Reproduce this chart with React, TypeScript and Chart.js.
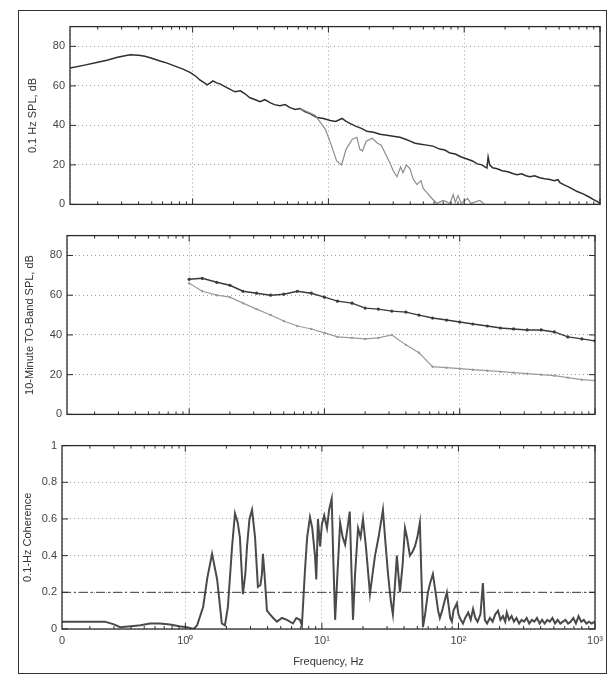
import React, { useEffect, useRef } from "react";
import { Chart, registerables } from "chart.js";
Chart.register(...registerables);

const FONT = "'Liberation Sans', Arial, Helvetica, sans-serif";

// ---- axes ----
const FREQ_MIN = 0.125;
const FREQ_MAX = 1000;
const xTickValues = [0.125, 1, 10, 100, 1000];
const xTickLabels = ["0", "10⁰", "10¹", "10²", "10³"];
const splTicks = [0, 20, 40, 60, 80];
const cohTicks = [0, 0.2, 0.4, 0.6, 0.8, 1];
const cohTickLabels = ["0", "0.2", "0.4", "0.6", "0.8", "1"];

// ---- panel 1: 0.1-Hz SPL ----
const topMainFreq = [0.125, 0.16, 0.2, 0.234, 0.28, 0.346, 0.4, 0.446, 0.5, 0.575, 0.65, 0.741, 0.85, 0.956, 1.05, 1.13, 1.22, 1.28, 1.35, 1.41, 1.5, 1.59, 1.8, 2.05, 2.25, 2.43, 2.64, 2.9, 3.13, 3.4, 3.71, 4.0, 4.4, 4.8, 5.21, 5.7, 6.18, 6.7, 7.31, 8.24, 9.2, 10.3, 11.3, 12.6, 13.5, 14.4, 16, 17.5, 19.2, 21.5, 24, 27, 30, 33.6, 37, 40, 43.4, 48, 53, 58.9, 66, 72, 78.5, 86, 95, 105, 115, 125, 135, 142, 147, 150, 154, 162, 175, 190, 210, 230, 245, 265, 285, 305, 330, 360, 390, 428, 460, 490, 507, 540, 580, 620, 680, 750, 820, 890, 950, 1000];
const topMainSPL = [69, 70.5, 72, 73, 74.5, 75.7, 75.5, 75, 74, 72.6, 71.5, 70, 68.5, 66.8, 65, 63, 61.5, 60.5, 61.5, 62.5, 61.5, 61, 59, 57, 57.5, 56, 54, 53, 52, 53, 51.5, 50.5, 50, 50.5, 49, 48, 48.5, 47, 46, 44, 43.5, 42.5, 42, 43.5, 42, 41, 39.5, 38.5, 37, 36.5, 35.5, 35, 34.5, 34, 33, 32, 31, 30.5, 30, 29.5, 28, 27.5, 26, 25.5, 24, 23, 22, 20.5, 20, 19, 18.4, 24, 20, 18.5, 18, 17, 16.5, 15.5, 15, 15.5, 14.5, 14, 14.5, 13.5, 13, 12.6, 12, 12.5, 11, 10, 9, 8, 6.5, 5.3, 4, 2.5, 1.5, 0.5];
const topSecFreq = [6.2, 8, 9.5, 10.5, 11.5, 12.5, 13.5, 15, 16.2, 17, 17.8, 19, 21, 23, 24.5, 27, 28.4, 30, 32, 34, 35.4, 37.5, 39.9, 42, 44.9, 48, 50, 53.2, 57.9, 63, 70, 78.5, 83, 86, 90, 95, 106, 112, 130, 140];
const topSecSPL = [48.5, 45, 38, 30, 22, 20, 28, 33, 34, 28, 27, 32, 33.5, 31, 30, 24, 21, 17, 14, 19, 16, 20, 18, 13, 10, 12, 8, 6, 3, 0.5, 2, 0.5, 5, 1, 4.5, 0.5, 3, 0.5, 2, 0.3];

// ---- panel 2: 10-minute third-octave band SPL ----
const bandFreq = [1, 1.25, 1.6, 2, 2.5, 3.15, 4, 5, 6.3, 8, 10, 12.5, 16, 20, 25, 31.5, 40, 50, 63, 80, 100, 125, 160, 200, 250, 315, 400, 500, 630, 800, 1000];
const bandSPLDark = [68, 68.5, 66.5, 65, 62, 61, 60, 60.5, 62, 61, 59, 57, 56, 53.5, 53, 52, 51.5, 50, 48.5, 47.5, 46.5, 45.5, 44.5, 43.5, 43, 42.5, 42.5, 41.5, 39, 38, 37];
const bandSPLGray = [66, 62, 60, 59, 56, 53, 50, 47, 44.5, 43, 41, 39, 38.5, 38, 38.5, 40, 35, 31, 24, 23.5, 23, 22.5, 22, 21.5, 21, 20.5, 20, 19.5, 18.5, 17.5, 17];

// ---- panel 3: 0.1-Hz coherence ----
const cohFreq = [0.125, 0.18, 0.258, 0.3, 0.333, 0.4, 0.47, 0.551, 0.65, 0.772, 0.9, 1.03, 1.15, 1.22, 1.35, 1.45, 1.57, 1.71, 1.85, 1.95, 2.05, 2.2, 2.31, 2.42, 2.51, 2.64, 2.75, 2.83, 2.95, 3.08, 3.24, 3.4, 3.55, 3.64, 3.7, 3.8, 3.96, 4.17, 4.4, 4.69, 5.1, 5.55, 6.14, 6.5, 6.91, 7.14, 7.52, 7.8, 8.18, 8.5, 8.9, 9.1, 9.36, 9.7, 10.0, 10.4, 10.9, 11.3, 11.8, 12.1, 12.5, 13.0, 13.6, 14.2, 14.8, 15.4, 16.0, 16.5, 16.9, 17.5, 18.4, 19.2, 20.0, 21, 22.5, 23.5, 24.5, 26, 28, 29, 30.5, 32, 33.1, 34, 35.4, 36.3, 37.3, 39, 40.6, 42, 44.1, 46, 48, 50, 52.2, 53.5, 55, 57, 59.8, 62, 65, 68, 71, 73.1, 76, 79, 82.3, 85, 87, 89.5, 92, 97.4, 100, 104, 108, 112, 118, 123, 128, 133, 138, 145, 151, 156, 162, 170, 178, 186, 195, 203, 212, 220, 226, 235, 245, 255, 266, 278, 290, 303, 316, 330, 345, 360, 376, 393, 410, 428, 447, 467, 488, 510, 533, 557, 582, 608, 635, 664, 694, 725, 758, 792, 828, 865, 904, 945, 1000];
const cohValue = [0.04, 0.04, 0.04, 0.025, 0.01, 0.015, 0.02, 0.03, 0.03, 0.025, 0.015, 0.01, 0.0, 0.02, 0.12, 0.28, 0.41, 0.27, 0.03, 0.02, 0.12, 0.45, 0.63, 0.58, 0.5, 0.19, 0.3, 0.45, 0.6, 0.65, 0.5, 0.23, 0.24, 0.3, 0.41, 0.3, 0.1, 0.08, 0.06, 0.04, 0.06, 0.05, 0.03, 0.06, 0.05, 0.02, 0.32, 0.5, 0.61, 0.55, 0.4, 0.27, 0.6, 0.45, 0.57, 0.62, 0.55, 0.65, 0.71, 0.4, 0.05, 0.3, 0.58, 0.5, 0.46, 0.55, 0.64, 0.3, 0.05, 0.3, 0.55, 0.5, 0.6, 0.45, 0.19, 0.3, 0.4, 0.5, 0.65, 0.5, 0.3, 0.15, 0.08, 0.2, 0.4, 0.3, 0.2, 0.35, 0.55, 0.5, 0.4, 0.42, 0.45, 0.5, 0.58, 0.3, 0.01, 0.08, 0.2, 0.25, 0.3, 0.2, 0.1, 0.06, 0.1, 0.15, 0.2, 0.12, 0.06, 0.04, 0.1, 0.14, 0.08, 0.05, 0.03, 0.06, 0.09, 0.05, 0.11, 0.06, 0.04, 0.08, 0.25, 0.05, 0.03, 0.06, 0.04, 0.08, 0.1, 0.05, 0.07, 0.04, 0.09, 0.05, 0.07, 0.04, 0.06, 0.03, 0.05, 0.04, 0.06, 0.03, 0.05, 0.04, 0.06, 0.03, 0.05, 0.03, 0.05, 0.04, 0.06, 0.03, 0.05, 0.03, 0.04, 0.05, 0.03, 0.04, 0.06, 0.03, 0.07, 0.04, 0.05, 0.03, 0.04, 0.03, 0.04];
const cohThresholdFreq = [FREQ_MIN, FREQ_MAX];
const cohThresholdValue = [0.2, 0.2];

const pts = (xs: number[], ys: number[]) => xs.map((x, i) => ({ x, y: ys[i] }));

const framePlugin = {
  id: "frame",
  afterDatasetsDraw(chart: any) {
    const { ctx, chartArea: a, scales } = chart;
    const xs = scales.x;
    const ys = scales.y;
    ctx.save();
    ctx.strokeStyle = "#2b2b2b";
    ctx.lineWidth = 1.3;
    ctx.strokeRect(a.left, a.top, a.right - a.left, a.bottom - a.top);
    ctx.lineWidth = 1;
    ctx.beginPath();
    for (let d = -1; d <= 3; d++) {
      for (let m = 1; m < 10; m++) {
        const v = m * Math.pow(10, d);
        if (v < FREQ_MIN || v > FREQ_MAX) continue;
        const px = xs.getPixelForValue(v);
        const len = m === 1 ? 6 : 3;
        ctx.moveTo(px, a.bottom);
        ctx.lineTo(px, a.bottom - len);
        ctx.moveTo(px, a.top);
        ctx.lineTo(px, a.top + len);
      }
    }
    ys.ticks.forEach((t: any) => {
      const py = ys.getPixelForValue(t.value);
      ctx.moveTo(a.left, py);
      ctx.lineTo(a.left + 6, py);
      ctx.moveTo(a.right, py);
      ctx.lineTo(a.right - 6, py);
    });
    ctx.stroke();
    ctx.restore();
  },
};

const gridColor = "rgba(0,0,0,0.38)";

function xScale(showLabels: boolean, title?: string) {
  return {
    type: "logarithmic",
    min: FREQ_MIN,
    max: FREQ_MAX,
    afterBuildTicks: (s: any) => {
      s.ticks = xTickValues.map((v) => ({ value: v }));
    },
    afterFit: (s: any) => {
      s.height = showLabels ? 43 : 0;
    },
    ticks: {
      display: showLabels,
      autoSkip: false,
      maxRotation: 0,
      padding: 5,
      color: "#444",
      font: { family: FONT, size: 11 },
      callback: (_v: any, i: number) => xTickLabels[i],
    },
    grid: { color: gridColor, drawTicks: false, lineWidth: 1 },
    border: { display: false, dash: [1, 3] },
    title: title
      ? { display: true, text: title, color: "#333", font: { family: FONT, size: 11 }, padding: { top: 0, bottom: 3 } }
      : { display: false },
  };
}

function yScale(max: number, ticks: number[], labels: string[], width: number, title: string) {
  return {
    min: 0,
    max,
    afterBuildTicks: (s: any) => {
      s.ticks = ticks.map((v) => ({ value: v }));
    },
    afterFit: (s: any) => {
      s.width = width;
    },
    ticks: {
      padding: 5,
      color: "#444",
      font: { family: FONT, size: 11 },
      callback: (_v: any, i: number) => labels[i],
    },
    grid: { color: gridColor, drawTicks: false, lineWidth: 1 },
    border: { display: false, dash: [1, 3] },
    title: { display: true, text: title, color: "#333", font: { family: FONT, size: 11 }, padding: { top: 6, bottom: 0 } },
  };
}

function baseOptions(padding: any, scales: any) {
  return {
    responsive: false,
    animation: false,
    devicePixelRatio: 1,
    layout: { padding },
    plugins: { legend: { display: false }, tooltip: { enabled: false } },
    elements: { line: { tension: 0 }, point: { radius: 0 } },
    scales,
  };
}

const splLabels = splTicks.map((v) => String(v));

function topConfig(): any {
  return {
    type: "line",
    data: {
      datasets: [
        { data: pts(topSecFreq, topSecSPL), borderColor: "#8c8c8c", borderWidth: 1.2 },
        { data: pts(topMainFreq, topMainSPL), borderColor: "#2e2e2e", borderWidth: 1.5 },
      ],
    },
    options: baseOptions(
      { left: 20, right: 12, top: 8, bottom: 8 },
      { x: xScale(false), y: yScale(90, splTicks, splLabels, 50, "0.1 Hz SPL, dB") }
    ),
    plugins: [framePlugin],
  };
}

function midConfig(): any {
  return {
    type: "line",
    data: {
      datasets: [
        { data: pts(bandFreq, bandSPLGray), borderColor: "#9a9a9a", borderWidth: 1.2, pointRadius: 1.2, pointBackgroundColor: "#9a9a9a", pointBorderWidth: 0 },
        { data: pts(bandFreq, bandSPLDark), borderColor: "#3a3a3a", borderWidth: 1.4, pointRadius: 1.6, pointBackgroundColor: "#3a3a3a", pointBorderWidth: 0 },
      ],
    },
    options: baseOptions(
      { left: 17, right: 17, top: 8, bottom: 8 },
      { x: xScale(false), y: yScale(90, splTicks, splLabels, 50, "10-Minute TO-Band SPL, dB") }
    ),
    plugins: [framePlugin],
  };
}

function botConfig(): any {
  return {
    type: "line",
    data: {
      datasets: [
        { data: pts(cohThresholdFreq, cohThresholdValue), borderColor: "#3a3a3a", borderWidth: 1, borderDash: [9, 3, 2, 3] },
        { data: pts(cohFreq, cohValue), borderColor: "#4a4a4a", borderWidth: 2 },
      ],
    },
    options: baseOptions(
      { left: 15, right: 17, top: 8, bottom: 0 },
      { x: xScale(true, "Frequency, Hz"), y: yScale(1, cohTicks, cohTickLabels, 47, "0.1-Hz Coherence") }
    ),
    plugins: [framePlugin],
  };
}

function Panel({ top, height, build }: { top: number; height: number; build: () => any }) {
  const ref = useRef<HTMLCanvasElement>(null);
  useEffect(() => {
    const chart = new Chart(ref.current as HTMLCanvasElement, build());
    return () => chart.destroy();
  }, []);
  return (
    <canvas
      ref={ref}
      width={612}
      height={height}
      style={{ position: "absolute", left: 0, top, width: 612, height }}
    />
  );
}

export default function App() {
  return (
    <div style={{ position: "absolute", left: 0, top: 0, width: 612, height: 677, background: "#ffffff", overflow: "hidden" }}>
      <div
        style={{
          position: "absolute",
          left: 18,
          top: 10,
          width: 589,
          height: 664,
          border: "1.5px solid #333",
          boxSizing: "border-box",
        }}
      />
      <Panel top={15} height={201} build={topConfig} />
      <Panel top={224} height={202} build={midConfig} />
      <Panel top={434} height={238} build={botConfig} />
    </div>
  );
}
